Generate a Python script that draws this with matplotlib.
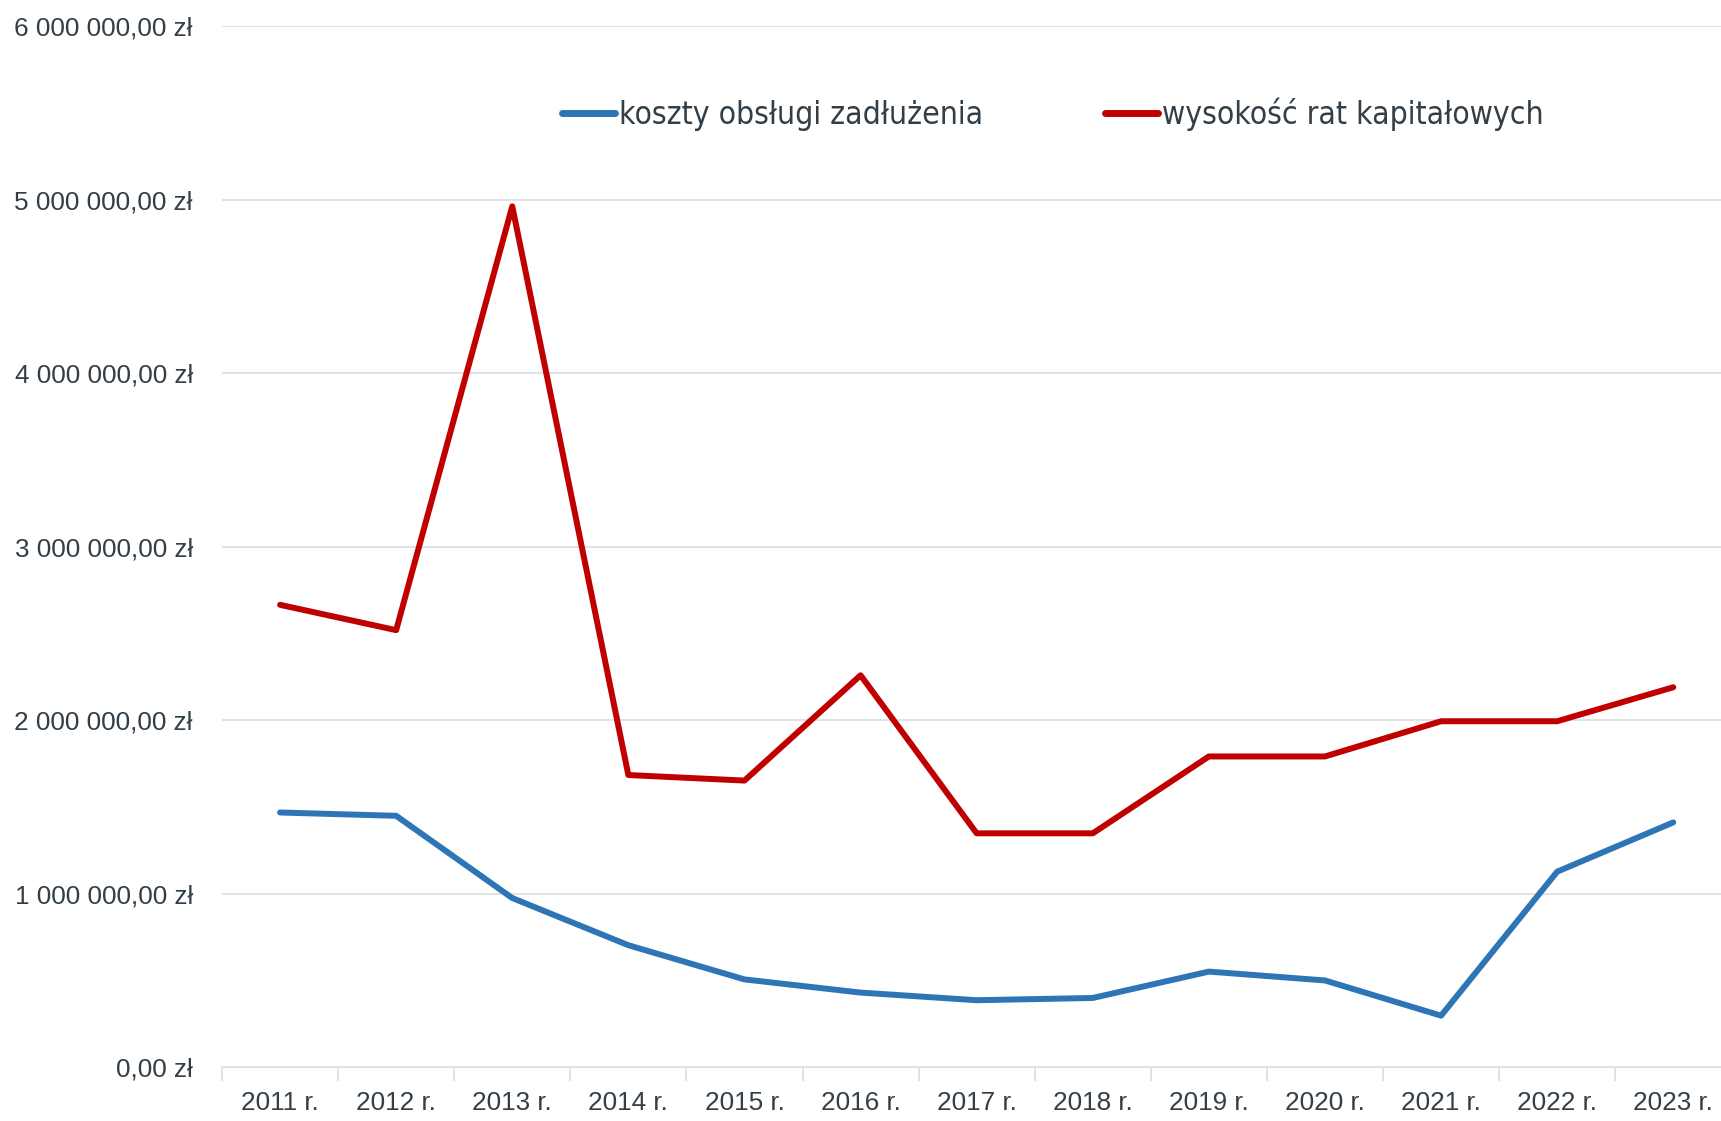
import matplotlib.pyplot as plt
from matplotlib.ticker import FuncFormatter, FixedLocator

years = ["2011 r.", "2012 r.", "2013 r.", "2014 r.", "2015 r.", "2016 r.", "2017 r.",
         "2018 r.", "2019 r.", "2020 r.", "2021 r.", "2022 r.", "2023 r."]
koszty = [1468000, 1449000, 975000, 703000, 506000, 430000, 386000,
          399000, 551000, 500000, 297000, 1127000, 1411000]
raty = [2665000, 2519000, 4962000, 1684000, 1652000, 2259000, 1348000,
        1348000, 1791000, 1791000, 1994000, 1994000, 2190000]

TEXT = "#333F48"
GRID = "#DCE1E4"


def pln(v, _pos):
    whole = f"{int(round(v)):,}".replace(",", " ")
    return f"{whole},00 zł"


fig = plt.figure(figsize=(17.21, 11.21), dpi=100)
ax = fig.add_axes([0.129, 0.048, 0.877, 0.9286])

x = range(len(years))
ax.plot(x, koszty, color="#2E75B6", lw=4.3, solid_joinstyle="round",
        solid_capstyle="round", label="koszty obsługi zadłużenia")
ax.plot(x, raty, color="#C00000", lw=4.3, solid_joinstyle="round",
        solid_capstyle="round", label="wysokość rat kapitałowych")

ax.set_xlim(-0.5, len(years) - 0.5)
ax.set_ylim(0, 6000000)
ax.set_yticks(range(0, 6000001, 1000000))
ax.yaxis.set_major_formatter(FuncFormatter(pln))
ax.grid(axis="y", color=GRID, lw=1.3)
ax.set_axisbelow(True)

ax.set_xticks(list(x))
ax.set_xticklabels(years)
ax.xaxis.set_minor_locator(FixedLocator([i - 0.5 for i in range(len(years) + 1)]))
ax.tick_params(axis="x", which="major", length=0, pad=17)
ax.tick_params(axis="x", which="minor", length=10, color=GRID, width=1.3)
ax.tick_params(axis="y", length=0, pad=21)

for lab in ax.get_xticklabels() + ax.get_yticklabels():
    lab.set_fontfamily(["Liberation Sans", "DejaVu Sans"])
    lab.set_fontsize(18.8)
    lab.set_color(TEXT)

for s in ["top", "right", "left"]:
    ax.spines[s].set_visible(False)
ax.spines["bottom"].set_color(GRID)
ax.spines["bottom"].set_linewidth(1.3)

leg = ax.legend(loc="center left", bbox_to_anchor=(0.225, 0.915), ncol=2, frameon=False,
                borderpad=0, borderaxespad=0,
                handlelength=1.7, handletextpad=0.1, columnspacing=3.85,
                prop=dict(family="DejaVu Sans", stretch="condensed", size=22.8))
for t in leg.get_texts():
    t.set_color(TEXT)
for h in leg.get_lines():
    h.set_linewidth(5)
    h.set_solid_capstyle("round")

fig.savefig("out.png", dpi=100)
